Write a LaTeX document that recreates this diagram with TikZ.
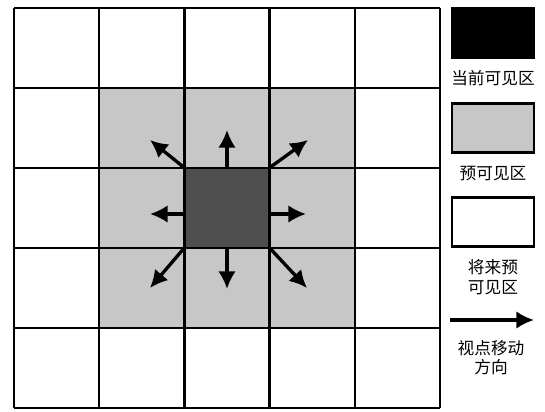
\documentclass[tikz,border=0pt]{standalone}
\usepackage{fontspec}
\newfontfamily\cjk{Noto Sans CJK SC}
\usetikzlibrary{arrows.meta,positioning}
\definecolor{lgray}{gray}{0.78}
\definecolor{dgray}{gray}{0.31}

\begin{document}
\begin{tikzpicture}[x=0.02cm, y=-0.02cm, line width=1.3pt,
        cell/.style={rectangle, draw, inner sep=0pt, minimum width=1.704cm, minimum height=1.6cm},
        keybox/.style={rectangle, draw, inner sep=0pt, minimum width=1.64cm, minimum height=0.98cm},
        keytxt/.style={font=\cjk\fontsize{9.5}{11}\selectfont, align=center, inner sep=0pt},
        mv/.style={-{Latex[length=10pt, width=10pt]}, line width=1.9pt}]
        \useasboundingbox (0,0) rectangle (545,412);

        % pre-visible ring and current cell
        \fill[lgray] (99.2,88) rectangle (354.8,328);
        \node[cell, fill=dgray] (cur) at (227,208) {};

        % 5x5 grid
        \foreach \i in {0,...,5} {
            \draw ({14+85.2*\i},8) -- ({14+85.2*\i},408);
            \draw (14,{8+80*\i}) -- (440,{8+80*\i});
        }

        % movement directions
        \coordinate (n) at (227,130);
        \coordinate (s) at (227,289);
        \coordinate (e) at (306,214);
        \coordinate (w) at (150,214);
        \coordinate (ne) at (308,140);
        \coordinate (nw) at (150,140);
        \coordinate (se) at (307,288);
        \coordinate (sw) at (150,288);
        \draw[mv] (cur.north) -- (n);
        \draw[mv] (cur.south) -- (s);
        \draw[mv] (cur.east |- e) -- (e);
        \draw[mv] (cur.west |- w) -- (w);
        \draw[mv] (cur.north east) -- (ne);
        \draw[mv] (cur.north west) -- (nw);
        \draw[mv] (cur.south east) -- (se);
        \draw[mv] (cur.south west) -- (sw);

        % legend
        \node[keybox, fill=black] (kcur) at (493,33) {};
        \node[keytxt, below=0.22cm of kcur] (lcur) {当前可见区};
        \node[keybox, fill=lgray] (kpre) at (493,128) {};
        \node[keytxt, below=0.22cm of kpre] (lpre) {预可见区};
        \node[keybox] (kfut) at (493,222) {};
        \node[keytxt, below=0.22cm of kfut] (lfut) {将来预\\可见区};
        \coordinate (ka) at (450,320);
        \coordinate (kb) at (534,320);
        \draw[mv] (ka) -- (kb);
        \coordinate (kmid) at (491,320);
        \node[keytxt, below=0.38cm of kmid] (lmv) {视点移动\\方向};

    \end{tikzpicture}
\end{document}
